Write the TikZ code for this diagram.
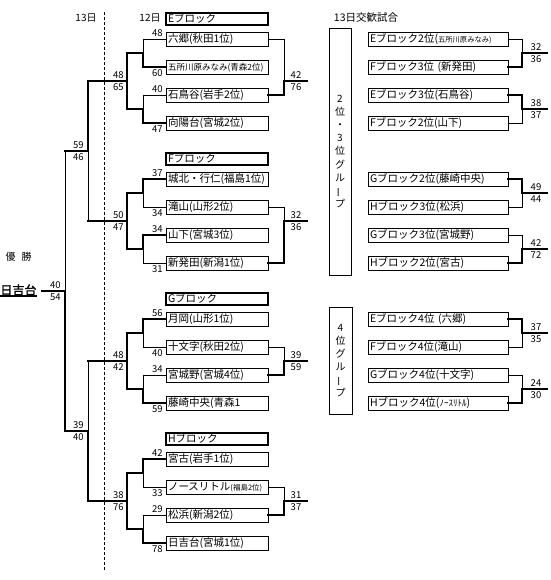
\documentclass[tikz,border=0pt]{standalone}
\usepackage{fontspec}
\usepackage{graphicx}
\setmainfont{Noto Sans CJK JP}
\newfontfamily\boldcjk{Noto Sans CJK JP}[FakeBold=2]
\usetikzlibrary{positioning}

\begin{document}
\begin{tikzpicture}[x=1pt, y=-1pt, line width=0.9pt,
    every node/.style={font=\fontsize{10.5}{12}\selectfont, inner sep=0pt},
    team/.style={draw, line width=0.9pt, minimum width=102pt, minimum height=14pt,
      text width=98pt, inner xsep=2pt, align=left, text height=8.5pt, text depth=2pt},
    rteam/.style={team, minimum width=140pt, text width=136pt},
    hdr/.style={team, line width=2.2pt, minimum height=12pt},
    score/.style={font=\fontsize{9.5}{10}\selectfont, inner sep=1pt},
    win/.style={line width=2.6pt, line cap=rect},
    grp/.style={draw, line width=0.9pt, align=center, inner sep=0pt, font=\fontsize{10}{13.1}\selectfont}]
    \useasboundingbox (0,0) rectangle (550,580);

    % days
    \node (day13) at (86,18) {\fontsize{10}{12}\selectfont 13日};
    \node (day12) at (150,18) {\fontsize{10}{12}\selectfont 12日};
    \node (xday) at (366,18) {13日交歓試合};
    \coordinate (dtop) at (104,12);
    \coordinate (dbot) at (104,570);
    \draw[dash pattern=on 3pt off 2pt] (dtop) -- (dbot);

    % E block
    \node[hdr] (eh) at (217,19) {Eブロック};
    \node[team] (e1) at (217,39) {六郷(秋田1位)};
    \node[team, font=\fontsize{8.5}{10}\selectfont] (e2) at (217,67) {五所川原みなみ(青森2位)};
    \node[team] (e3) at (217,95) {石鳥谷(岩手2位)};
    \node[team] (e4) at (217,123) {向陽台(宮城2位)};
    \coordinate (eA) at (143,53);
    \coordinate (eB) at (143,109);
    \coordinate (eC) at (127,81);
    \coordinate (eT) at (284,81);
    \coordinate (eTo) at (307,81);
    \draw (e1.west) -| (eA);
    \draw[win] (e2.west) -| (eA);
    \draw (e3.west) -| (eB);
    \draw[win] (e4.west) -| (eB);
    \draw[win] (eA) -| (eC);
    \draw[win] (eB) -| (eC);
    \draw (e1.east) -| (eT);
    \draw[win] (e3.east) -| (eT) -- (eTo);
    \node[score, anchor=south east] (e1s) at (164,38) {48};
    \node[score, anchor=north east] (e2s) at (164,68) {60};
    \node[score, anchor=south east] (e3s) at (164,94) {40};
    \node[score, anchor=north east] (e4s) at (164,124) {47};
    \node[score, anchor=south east] (eCs1) at (125,80) {48};
    \node[score, anchor=north east] (eCs2) at (125,82) {65};
    \node[score, anchor=south] (eTs1) at (296,80) {42};
    \node[score, anchor=north] (eTs2) at (296,82) {76};

    % F block
    \node[hdr] (fh) at (217,159) {Fブロック};
    \node[team] (f1) at (217,179) {城北・行仁(福島1位)};
    \node[team] (f2) at (217,207) {滝山(山形2位)};
    \node[team] (f3) at (217,235) {山下(宮城3位)};
    \node[team] (f4) at (217,263) {新発田(新潟1位)};
    \coordinate (fA) at (143,193);
    \coordinate (fB) at (143,249);
    \coordinate (fC) at (127,221);
    \coordinate (fT) at (284,221);
    \coordinate (fTo) at (307,221);
    \draw[win] (f1.west) -| (fA);
    \draw (f2.west) -| (fA);
    \draw[win] (f3.west) -| (fB);
    \draw (f4.west) -| (fB);
    \draw[win] (fA) -| (fC);
    \draw[win] (fB) -| (fC);
    \draw (f2.east) -| (fT);
    \draw[win] (f4.east) -| (fT) -- (fTo);
    \node[score, anchor=south east] (f1s) at (164,178) {37};
    \node[score, anchor=north east] (f2s) at (164,208) {34};
    \node[score, anchor=south east] (f3s) at (164,234) {34};
    \node[score, anchor=north east] (f4s) at (164,264) {31};
    \node[score, anchor=south east] (fCs1) at (125,220) {50};
    \node[score, anchor=north east] (fCs2) at (125,222) {47};
    \node[score, anchor=south] (fTs1) at (296,220) {32};
    \node[score, anchor=north] (fTs2) at (296,222) {36};

    % G block
    \node[hdr] (gh) at (217,299) {Gブロック};
    \node[team] (g1) at (217,319) {月岡(山形1位)};
    \node[team] (g2) at (217,347) {十文字(秋田2位)};
    \node[team] (g3) at (217,375) {宮城野(宮城4位)};
    \node[team] (g4) at (217,403) {藤崎中央(青森1};
    \coordinate (gA) at (143,333);
    \coordinate (gB) at (143,389);
    \coordinate (gC) at (127,361);
    \coordinate (gT) at (284,361);
    \coordinate (gTo) at (307,361);
    \draw[win] (g1.west) -| (gA);
    \draw (g2.west) -| (gA);
    \draw (g3.west) -| (gB);
    \draw[win] (g4.west) -| (gB);
    \draw[win] (gA) -| (gC);
    \draw[win] (gB) -| (gC);
    \draw (g2.east) -| (gT);
    \draw[win] (g3.east) -| (gT) -- (gTo);
    \node[score, anchor=south east] (g1s) at (164,318) {56};
    \node[score, anchor=north east] (g2s) at (164,348) {40};
    \node[score, anchor=south east] (g3s) at (164,374) {34};
    \node[score, anchor=north east] (g4s) at (164,404) {59};
    \node[score, anchor=south east] (gCs1) at (125,360) {48};
    \node[score, anchor=north east] (gCs2) at (125,362) {42};
    \node[score, anchor=south] (gTs1) at (296,360) {39};
    \node[score, anchor=north] (gTs2) at (296,362) {59};

    % H block
    \node[hdr] (hh) at (217,439) {Hブロック};
    \node[team] (h1) at (217,459) {宮古(岩手1位)};
    \node[team] (h2) at (217,487) {ノースリトル{\fontsize{7.5}{9}\selectfont(福島2位)}};
    \node[team] (h3) at (217,515) {松浜(新潟2位)};
    \node[team] (h4) at (217,543) {日吉台(宮城1位)};
    \coordinate (hA) at (143,473);
    \coordinate (hB) at (143,529);
    \coordinate (hC) at (127,501);
    \coordinate (hT) at (284,501);
    \coordinate (hTo) at (307,501);
    \draw[win] (h1.west) -| (hA);
    \draw (h2.west) -| (hA);
    \draw (h3.west) -| (hB);
    \draw[win] (h4.west) -| (hB);
    \draw[win] (hA) -| (hC);
    \draw[win] (hB) -| (hC);
    \draw (h2.east) -| (hT);
    \draw[win] (h3.east) -| (hT) -- (hTo);
    \node[score, anchor=south east] (h1s) at (164,458) {42};
    \node[score, anchor=north east] (h2s) at (164,488) {33};
    \node[score, anchor=south east] (h3s) at (164,514) {29};
    \node[score, anchor=north east] (h4s) at (164,544) {78};
    \node[score, anchor=south east] (hCs1) at (125,500) {38};
    \node[score, anchor=north east] (hCs2) at (125,502) {76};
    \node[score, anchor=south] (hTs1) at (296,500) {31};
    \node[score, anchor=north] (hTs2) at (296,502) {37};

    % 13th and final
    \coordinate (ef) at (88,151);
    \coordinate (gh) at (88,431);
    \coordinate (fin) at (65,291);
    \coordinate (champo) at (42,291);
    \draw[win] (eC) -| (ef);
    \draw[win] (fC) -- (fC -| ef);
    \draw (fC -| ef) -- (ef);
    \draw[win] (gC) -- (gC -| gh);
    \draw (gC -| gh) -- (gh);
    \draw[win] (hC) -| (gh);
    \draw[win] (ef) -- (ef -| fin);
    \draw (ef -| fin) -- (fin);
    \draw[win] (gh) -| (fin);
    \draw[win] (fin) -- (champo);
    \node[score, anchor=south east] (efs1) at (85,150) {59};
    \node[score, anchor=north east] (efs2) at (85,152) {46};
    \node[score, anchor=south east] (ghs1) at (85,430) {39};
    \node[score, anchor=north east] (ghs2) at (85,432) {40};
    \node[score, anchor=south east] (fins1) at (62,290) {40};
    \node[score, anchor=north east] (fins2) at (62,292) {54};
    \node (yusho) at (18.5,257) {\fontsize{10}{12}\selectfont 優\hspace{6pt}勝};
    \node[anchor=west, font=\boldcjk\fontsize{12}{14}\selectfont] (champ) at (0,290) {日吉台};
    \draw[line width=1.6pt] (champ.south west) -- (champ.south east);

    % exchange games
    \node[grp, minimum width=22pt, minimum height=247pt] (grp23) at (340,151.5)
      {2\\位\\・\\3\\位\\グ\\ル\\\rotatebox[origin=c]{90}{ー}\\プ};
    \node[grp, minimum width=23pt, minimum height=107pt] (grp4) at (340.5,360.5)
      {4\\位\\グ\\ル\\\rotatebox[origin=c]{90}{ー}\\プ};

    \node[rteam] (r1) at (438,39) {Eブロック2位({\fontsize{7.3}{9}\selectfont 五所川原みなみ)}};
    \node[rteam] (r2) at (438,67) {Fブロック3位 (新発田)};
    \node[rteam] (r3) at (438,95) {Eブロック3位(石鳥谷)};
    \node[rteam] (r4) at (438,123) {Fブロック2位(山下)};
    \node[rteam] (r5) at (438,179) {Gブロック2位(藤崎中央)};
    \node[rteam] (r6) at (438,207) {Hブロック3位(松浜)};
    \node[rteam] (r7) at (438,235) {Gブロック3位(宮城野)};
    \node[rteam] (r8) at (438,263) {Hブロック2位(宮古)};
    \node[rteam] (r9) at (438,319) {Eブロック4位 (六郷)};
    \node[rteam] (r10) at (438,347) {Fブロック4位(滝山)};
    \node[rteam] (r11) at (438,375) {Gブロック4位(十文字)};
    \node[rteam] (r12) at (438,403) {Hブロック4位({\fontsize{9}{10}\selectfont ﾉｰｽﾘﾄﾙ})};

    \coordinate (ra) at (522,53);   \coordinate (rao) at (547,53);
    \coordinate (rb) at (522,109);  \coordinate (rbo) at (547,109);
    \coordinate (rc) at (522,193);  \coordinate (rco) at (547,193);
    \coordinate (rd) at (522,249);  \coordinate (rdo) at (547,249);
    \coordinate (re) at (522,333);  \coordinate (reo) at (547,333);
    \coordinate (rf) at (522,389);  \coordinate (rfo) at (547,389);
    \draw (r1.east) -| (ra);
    \draw[win] (r2.east) -| (ra) -- (rao);
    \draw[win] (r3.east) -| (rb) -- (rbo);
    \draw (r4.east) -| (rb);
    \draw[win] (r5.east) -| (rc) -- (rco);
    \draw (r6.east) -| (rc);
    \draw (r7.east) -| (rd);
    \draw[win] (r8.east) -| (rd) -- (rdo);
    \draw[win] (r9.east) -| (re) -- (reo);
    \draw (r10.east) -| (re);
    \draw (r11.east) -| (rf);
    \draw[win] (r12.east) -| (rf) -- (rfo);
    \node[score, anchor=south] (ras1) at (536,52) {32};
    \node[score, anchor=north] (ras2) at (536,54) {36};
    \node[score, anchor=south] (rbs1) at (536,108) {38};
    \node[score, anchor=north] (rbs2) at (536,110) {37};
    \node[score, anchor=south] (rcs1) at (536,192) {49};
    \node[score, anchor=north] (rcs2) at (536,194) {44};
    \node[score, anchor=south] (rds1) at (536,248) {42};
    \node[score, anchor=north] (rds2) at (536,250) {72};
    \node[score, anchor=south] (res1) at (536,332) {37};
    \node[score, anchor=north] (res2) at (536,334) {35};
    \node[score, anchor=south] (rfs1) at (536,388) {24};
    \node[score, anchor=north] (rfs2) at (536,390) {30};
\end{tikzpicture}
\end{document}
